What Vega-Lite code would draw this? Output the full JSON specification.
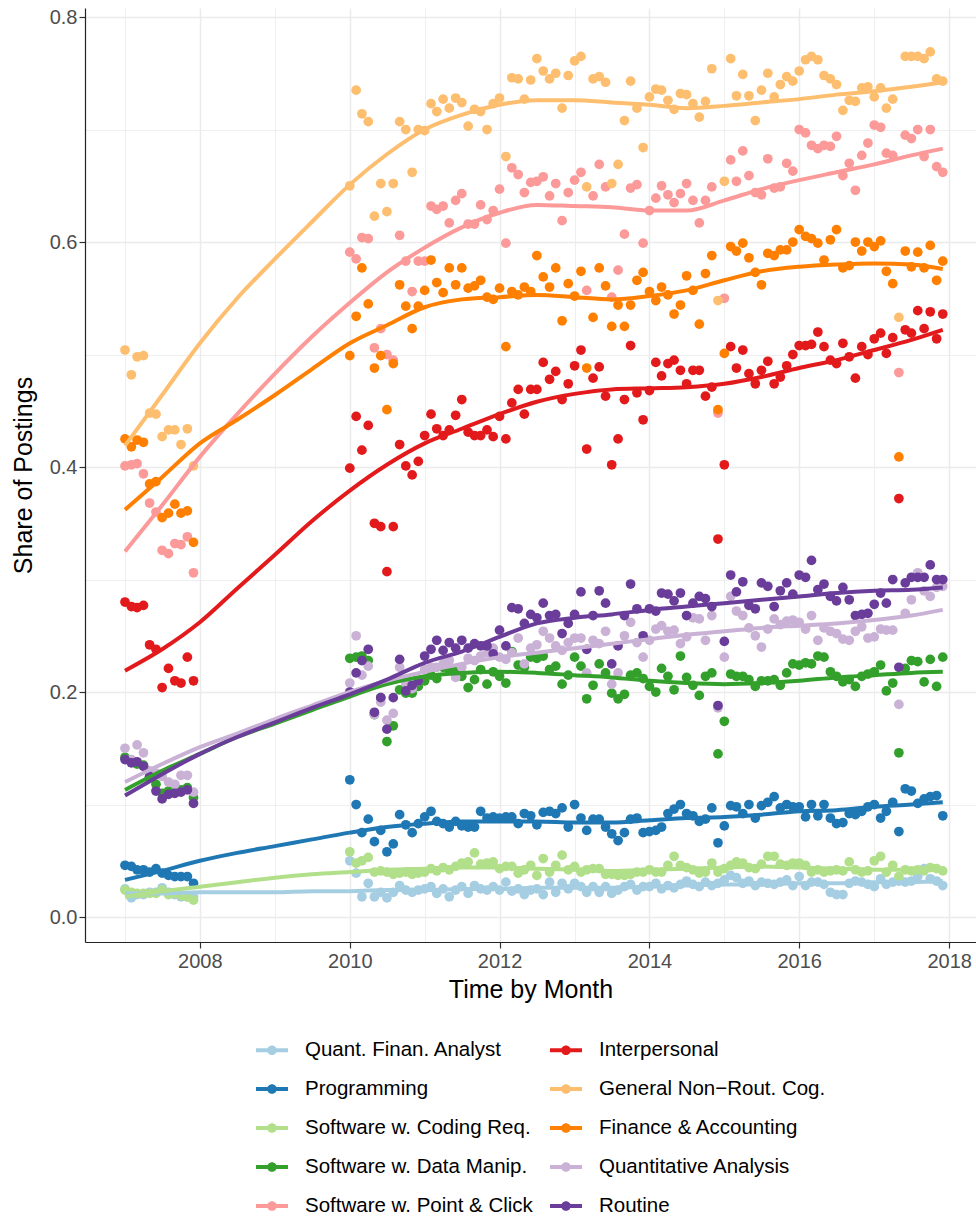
{
  "$schema": "https://vega.github.io/schema/vega-lite/v6.json",
  "width": 891,
  "height": 934,
  "autosize": {"type": "none"},
  "padding": {"left": 85, "top": 8, "right": 0, "bottom": 280},
  "background": "white",
  "config": {"view": {"stroke": null}, "font": "Liberation Sans"},
  "datasets": {
    "names": [
      {"key": "QFA", "name": "Quant. Finan. Analyst", "ord": 1},
      {"key": "PRG", "name": "Programming", "ord": 2},
      {"key": "COD", "name": "Software w. Coding Req.", "ord": 3},
      {"key": "DAT", "name": "Software w. Data Manip.", "ord": 4},
      {"key": "PNC", "name": "Software w. Point & Click", "ord": 5},
      {"key": "INT", "name": "Interpersonal", "ord": 6},
      {"key": "GEN", "name": "General Non−Rout. Cog.", "ord": 7},
      {"key": "FIN", "name": "Finance & Accounting", "ord": 8},
      {"key": "QAN", "name": "Quantitative Analysis", "ord": 9},
      {"key": "ROU", "name": "Routine", "ord": 10}
    ],
    "pts": [
      {"t":"2007-01","QFA":0.025,"PRG":0.046,"COD":0.024,"DAT":0.142,"PNC":0.401,"INT":0.280,"GEN":0.504,"FIN":0.425,"QAN":0.150,"ROU":0.140},
      {"t":"2007-02","QFA":0.017,"PRG":0.045,"COD":0.022,"DAT":0.138,"PNC":0.402,"INT":0.276,"GEN":0.482,"FIN":0.418,"QAN":0.140,"ROU":0.137},
      {"t":"2007-03","QFA":0.020,"PRG":0.042,"COD":0.021,"DAT":0.136,"PNC":0.403,"INT":0.275,"GEN":0.498,"FIN":0.424,"QAN":0.153,"ROU":0.138},
      {"t":"2007-04","QFA":0.020,"PRG":0.042,"COD":0.021,"DAT":0.135,"PNC":0.394,"INT":0.277,"GEN":0.499,"FIN":0.422,"QAN":0.146,"ROU":0.134},
      {"t":"2007-05","QFA":0.022,"PRG":0.040,"COD":0.021,"DAT":0.124,"PNC":0.368,"INT":0.242,"GEN":0.448,"FIN":0.385,"QAN":0.130,"ROU":0.125},
      {"t":"2007-06","QFA":0.022,"PRG":0.043,"COD":0.021,"DAT":0.118,"PNC":0.360,"INT":0.238,"GEN":0.447,"FIN":0.387,"QAN":0.128,"ROU":0.112},
      {"t":"2007-07","QFA":0.026,"PRG":0.039,"COD":0.024,"DAT":0.110,"PNC":0.326,"INT":0.204,"GEN":0.427,"FIN":0.355,"QAN":0.125,"ROU":0.105},
      {"t":"2007-08","QFA":0.022,"PRG":0.037,"COD":0.020,"DAT":0.112,"PNC":0.323,"INT":0.221,"GEN":0.433,"FIN":0.359,"QAN":0.120,"ROU":0.109},
      {"t":"2007-09","QFA":0.020,"PRG":0.036,"COD":0.021,"DAT":0.112,"PNC":0.332,"INT":0.210,"GEN":0.433,"FIN":0.367,"QAN":0.118,"ROU":0.110},
      {"t":"2007-10","QFA":0.018,"PRG":0.036,"COD":0.019,"DAT":0.113,"PNC":0.331,"INT":0.208,"GEN":0.420,"FIN":0.359,"QAN":0.126,"ROU":0.111},
      {"t":"2007-11","QFA":0.018,"PRG":0.036,"COD":0.018,"DAT":0.115,"PNC":0.338,"INT":0.231,"GEN":0.434,"FIN":0.361,"QAN":0.126,"ROU":0.113},
      {"t":"2007-12","QFA":0.018,"PRG":0.030,"COD":0.015,"DAT":0.106,"PNC":0.306,"INT":0.210,"GEN":0.401,"FIN":0.333,"QAN":0.111,"ROU":0.101},
      {"t":"2010-01","QFA":0.050,"PRG":0.122,"COD":0.058,"DAT":0.230,"PNC":0.591,"INT":0.399,"GEN":0.650,"FIN":0.499,"QAN":0.208,"ROU":0.200},
      {"t":"2010-02","QFA":0.039,"PRG":0.100,"COD":0.048,"DAT":0.231,"PNC":0.585,"INT":0.445,"GEN":0.735,"FIN":0.534,"QAN":0.250,"ROU":0.217},
      {"t":"2010-03","QFA":0.018,"PRG":0.075,"COD":0.050,"DAT":0.232,"PNC":0.604,"INT":0.415,"GEN":0.714,"FIN":0.577,"QAN":0.215,"ROU":0.228},
      {"t":"2010-04","QFA":0.030,"PRG":0.087,"COD":0.053,"DAT":0.228,"PNC":0.603,"INT":0.437,"GEN":0.707,"FIN":0.545,"QAN":0.223,"ROU":0.238},
      {"t":"2010-05","QFA":0.018,"PRG":0.067,"COD":0.040,"DAT":0.180,"PNC":0.506,"INT":0.350,"GEN":0.623,"FIN":0.488,"QAN":0.180,"ROU":0.182},
      {"t":"2010-06","QFA":0.022,"PRG":0.077,"COD":0.041,"DAT":0.195,"PNC":0.523,"INT":0.347,"GEN":0.652,"FIN":0.499,"QAN":0.191,"ROU":0.195},
      {"t":"2010-07","QFA":0.017,"PRG":0.058,"COD":0.040,"DAT":0.156,"PNC":0.500,"INT":0.307,"GEN":0.627,"FIN":0.451,"QAN":0.175,"ROU":0.167},
      {"t":"2010-08","QFA":0.022,"PRG":0.065,"COD":0.038,"DAT":0.170,"PNC":0.495,"INT":0.347,"GEN":0.652,"FIN":0.492,"QAN":0.181,"ROU":0.195},
      {"t":"2010-09","QFA":0.028,"PRG":0.091,"COD":0.039,"DAT":0.202,"PNC":0.606,"INT":0.420,"GEN":0.707,"FIN":0.562,"QAN":0.222,"ROU":0.229},
      {"t":"2010-10","QFA":0.024,"PRG":0.082,"COD":0.040,"DAT":0.199,"PNC":0.583,"INT":0.401,"GEN":0.700,"FIN":0.543,"QAN":0.208,"ROU":0.201},
      {"t":"2010-11","QFA":0.022,"PRG":0.075,"COD":0.038,"DAT":0.199,"PNC":0.556,"INT":0.393,"GEN":0.662,"FIN":0.523,"QAN":0.203,"ROU":0.206},
      {"t":"2010-12","QFA":0.024,"PRG":0.083,"COD":0.039,"DAT":0.205,"PNC":0.583,"INT":0.405,"GEN":0.700,"FIN":0.543,"QAN":0.210,"ROU":0.210},
      {"t":"2011-01","QFA":0.025,"PRG":0.089,"COD":0.040,"DAT":0.210,"PNC":0.583,"INT":0.428,"GEN":0.699,"FIN":0.557,"QAN":0.220,"ROU":0.232},
      {"t":"2011-02","QFA":0.027,"PRG":0.094,"COD":0.043,"DAT":0.215,"PNC":0.632,"INT":0.447,"GEN":0.723,"FIN":0.584,"QAN":0.222,"ROU":0.238},
      {"t":"2011-03","QFA":0.021,"PRG":0.085,"COD":0.041,"DAT":0.212,"PNC":0.629,"INT":0.434,"GEN":0.716,"FIN":0.564,"QAN":0.222,"ROU":0.246},
      {"t":"2011-04","QFA":0.025,"PRG":0.083,"COD":0.044,"DAT":0.222,"PNC":0.632,"INT":0.428,"GEN":0.727,"FIN":0.555,"QAN":0.225,"ROU":0.237},
      {"t":"2011-05","QFA":0.018,"PRG":0.080,"COD":0.042,"DAT":0.220,"PNC":0.617,"INT":0.433,"GEN":0.719,"FIN":0.577,"QAN":0.228,"ROU":0.244},
      {"t":"2011-06","QFA":0.024,"PRG":0.085,"COD":0.045,"DAT":0.218,"PNC":0.637,"INT":0.446,"GEN":0.728,"FIN":0.562,"QAN":0.213,"ROU":0.239},
      {"t":"2011-07","QFA":0.027,"PRG":0.081,"COD":0.048,"DAT":0.214,"PNC":0.643,"INT":0.460,"GEN":0.724,"FIN":0.577,"QAN":0.222,"ROU":0.246},
      {"t":"2011-08","QFA":0.021,"PRG":0.080,"COD":0.049,"DAT":0.204,"PNC":0.616,"INT":0.431,"GEN":0.703,"FIN":0.559,"QAN":0.230,"ROU":0.239},
      {"t":"2011-09","QFA":0.028,"PRG":0.080,"COD":0.057,"DAT":0.211,"PNC":0.616,"INT":0.428,"GEN":0.718,"FIN":0.561,"QAN":0.228,"ROU":0.243},
      {"t":"2011-10","QFA":0.025,"PRG":0.094,"COD":0.047,"DAT":0.220,"PNC":0.633,"INT":0.428,"GEN":0.716,"FIN":0.566,"QAN":0.232,"ROU":0.241},
      {"t":"2011-11","QFA":0.024,"PRG":0.088,"COD":0.048,"DAT":0.207,"PNC":0.620,"INT":0.433,"GEN":0.700,"FIN":0.551,"QAN":0.235,"ROU":0.241},
      {"t":"2011-12","QFA":0.027,"PRG":0.089,"COD":0.049,"DAT":0.218,"PNC":0.628,"INT":0.427,"GEN":0.723,"FIN":0.549,"QAN":0.239,"ROU":0.234},
      {"t":"2012-01","QFA":0.024,"PRG":0.088,"COD":0.043,"DAT":0.214,"PNC":0.647,"INT":0.445,"GEN":0.728,"FIN":0.559,"QAN":0.231,"ROU":0.255},
      {"t":"2012-02","QFA":0.031,"PRG":0.089,"COD":0.045,"DAT":0.208,"PNC":0.599,"INT":0.425,"GEN":0.676,"FIN":0.507,"QAN":0.229,"ROU":0.241},
      {"t":"2012-03","QFA":0.023,"PRG":0.089,"COD":0.045,"DAT":0.236,"PNC":0.666,"INT":0.457,"GEN":0.746,"FIN":0.556,"QAN":0.235,"ROU":0.275},
      {"t":"2012-04","QFA":0.025,"PRG":0.083,"COD":0.039,"DAT":0.224,"PNC":0.660,"INT":0.469,"GEN":0.745,"FIN":0.553,"QAN":0.248,"ROU":0.274},
      {"t":"2012-05","QFA":0.020,"PRG":0.092,"COD":0.042,"DAT":0.222,"PNC":0.644,"INT":0.447,"GEN":0.727,"FIN":0.560,"QAN":0.225,"ROU":0.261},
      {"t":"2012-06","QFA":0.024,"PRG":0.090,"COD":0.046,"DAT":0.231,"PNC":0.653,"INT":0.469,"GEN":0.744,"FIN":0.556,"QAN":0.239,"ROU":0.269},
      {"t":"2012-07","QFA":0.025,"PRG":0.082,"COD":0.037,"DAT":0.230,"PNC":0.654,"INT":0.469,"GEN":0.763,"FIN":0.588,"QAN":0.242,"ROU":0.266},
      {"t":"2012-08","QFA":0.020,"PRG":0.093,"COD":0.052,"DAT":0.232,"PNC":0.658,"INT":0.493,"GEN":0.752,"FIN":0.569,"QAN":0.254,"ROU":0.279},
      {"t":"2012-09","QFA":0.031,"PRG":0.094,"COD":0.040,"DAT":0.220,"PNC":0.641,"INT":0.478,"GEN":0.745,"FIN":0.560,"QAN":0.248,"ROU":0.268},
      {"t":"2012-10","QFA":0.022,"PRG":0.092,"COD":0.046,"DAT":0.223,"PNC":0.652,"INT":0.485,"GEN":0.750,"FIN":0.577,"QAN":0.241,"ROU":0.269},
      {"t":"2012-11","QFA":0.030,"PRG":0.097,"COD":0.055,"DAT":0.207,"PNC":0.619,"INT":0.460,"GEN":0.719,"FIN":0.530,"QAN":0.237,"ROU":0.252},
      {"t":"2012-12","QFA":0.025,"PRG":0.080,"COD":0.042,"DAT":0.215,"PNC":0.644,"INT":0.474,"GEN":0.748,"FIN":0.563,"QAN":0.244,"ROU":0.261},
      {"t":"2013-01","QFA":0.030,"PRG":0.100,"COD":0.045,"DAT":0.231,"PNC":0.655,"INT":0.490,"GEN":0.761,"FIN":0.552,"QAN":0.248,"ROU":0.269},
      {"t":"2013-02","QFA":0.027,"PRG":0.088,"COD":0.040,"DAT":0.223,"PNC":0.662,"INT":0.504,"GEN":0.765,"FIN":0.574,"QAN":0.248,"ROU":0.289},
      {"t":"2013-03","QFA":0.022,"PRG":0.077,"COD":0.042,"DAT":0.194,"PNC":0.557,"INT":0.416,"GEN":0.649,"FIN":0.488,"QAN":0.217,"ROU":0.238},
      {"t":"2013-04","QFA":0.027,"PRG":0.087,"COD":0.043,"DAT":0.206,"PNC":0.641,"INT":0.479,"GEN":0.745,"FIN":0.533,"QAN":0.246,"ROU":0.268},
      {"t":"2013-05","QFA":0.022,"PRG":0.087,"COD":0.043,"DAT":0.225,"PNC":0.669,"INT":0.489,"GEN":0.747,"FIN":0.577,"QAN":0.243,"ROU":0.290},
      {"t":"2013-06","QFA":0.027,"PRG":0.080,"COD":0.038,"DAT":0.217,"PNC":0.649,"INT":0.463,"GEN":0.742,"FIN":0.561,"QAN":0.254,"ROU":0.279},
      {"t":"2013-07","QFA":0.021,"PRG":0.074,"COD":0.038,"DAT":0.199,"PNC":0.551,"INT":0.402,"GEN":0.652,"FIN":0.525,"QAN":0.207,"ROU":0.225},
      {"t":"2013-08","QFA":0.024,"PRG":0.068,"COD":0.037,"DAT":0.194,"PNC":0.575,"INT":0.425,"GEN":0.669,"FIN":0.544,"QAN":0.217,"ROU":0.241},
      {"t":"2013-09","QFA":0.027,"PRG":0.075,"COD":0.037,"DAT":0.198,"PNC":0.607,"INT":0.460,"GEN":0.708,"FIN":0.525,"QAN":0.250,"ROU":0.268},
      {"t":"2013-10","QFA":0.029,"PRG":0.087,"COD":0.038,"DAT":0.215,"PNC":0.648,"INT":0.508,"GEN":0.743,"FIN":0.544,"QAN":0.262,"ROU":0.296},
      {"t":"2013-11","QFA":0.024,"PRG":0.088,"COD":0.040,"DAT":0.217,"PNC":0.651,"INT":0.466,"GEN":0.719,"FIN":0.566,"QAN":0.244,"ROU":0.274},
      {"t":"2013-12","QFA":0.027,"PRG":0.075,"COD":0.040,"DAT":0.212,"PNC":0.599,"INT":0.442,"GEN":0.684,"FIN":0.573,"QAN":0.231,"ROU":0.250},
      {"t":"2014-01","QFA":0.027,"PRG":0.076,"COD":0.042,"DAT":0.205,"PNC":0.628,"INT":0.468,"GEN":0.729,"FIN":0.556,"QAN":0.246,"ROU":0.274},
      {"t":"2014-02","QFA":0.030,"PRG":0.077,"COD":0.040,"DAT":0.200,"PNC":0.639,"INT":0.493,"GEN":0.736,"FIN":0.548,"QAN":0.256,"ROU":0.272},
      {"t":"2014-03","QFA":0.025,"PRG":0.080,"COD":0.040,"DAT":0.221,"PNC":0.650,"INT":0.481,"GEN":0.735,"FIN":0.560,"QAN":0.259,"ROU":0.288},
      {"t":"2014-04","QFA":0.028,"PRG":0.092,"COD":0.046,"DAT":0.214,"PNC":0.642,"INT":0.492,"GEN":0.726,"FIN":0.553,"QAN":0.254,"ROU":0.287},
      {"t":"2014-05","QFA":0.026,"PRG":0.096,"COD":0.054,"DAT":0.202,"PNC":0.635,"INT":0.495,"GEN":0.718,"FIN":0.536,"QAN":0.255,"ROU":0.281},
      {"t":"2014-06","QFA":0.029,"PRG":0.100,"COD":0.046,"DAT":0.232,"PNC":0.643,"INT":0.486,"GEN":0.732,"FIN":0.544,"QAN":0.243,"ROU":0.288},
      {"t":"2014-07","QFA":0.032,"PRG":0.092,"COD":0.044,"DAT":0.213,"PNC":0.652,"INT":0.474,"GEN":0.731,"FIN":0.570,"QAN":0.249,"ROU":0.268},
      {"t":"2014-08","QFA":0.029,"PRG":0.090,"COD":0.042,"DAT":0.206,"PNC":0.637,"INT":0.486,"GEN":0.723,"FIN":0.557,"QAN":0.266,"ROU":0.279},
      {"t":"2014-09","QFA":0.027,"PRG":0.085,"COD":0.039,"DAT":0.197,"PNC":0.617,"INT":0.486,"GEN":0.711,"FIN":0.527,"QAN":0.265,"ROU":0.285},
      {"t":"2014-10","QFA":0.031,"PRG":0.087,"COD":0.040,"DAT":0.214,"PNC":0.637,"INT":0.463,"GEN":0.725,"FIN":0.572,"QAN":0.246,"ROU":0.283},
      {"t":"2014-11","QFA":0.028,"PRG":0.097,"COD":0.048,"DAT":0.217,"PNC":0.649,"INT":0.471,"GEN":0.754,"FIN":0.588,"QAN":0.268,"ROU":0.276},
      {"t":"2014-12","QFA":0.030,"PRG":0.066,"COD":0.040,"DAT":0.145,"PNC":0.448,"INT":0.336,"GEN":0.548,"FIN":0.451,"QAN":0.186,"ROU":0.188},
      {"t":"2015-01","QFA":0.033,"PRG":0.081,"COD":0.043,"DAT":0.174,"PNC":0.550,"INT":0.402,"GEN":0.654,"FIN":0.501,"QAN":0.231,"ROU":0.245},
      {"t":"2015-02","QFA":0.037,"PRG":0.099,"COD":0.046,"DAT":0.216,"PNC":0.673,"INT":0.507,"GEN":0.763,"FIN":0.596,"QAN":0.285,"ROU":0.304},
      {"t":"2015-03","QFA":0.035,"PRG":0.098,"COD":0.049,"DAT":0.214,"PNC":0.654,"INT":0.488,"GEN":0.730,"FIN":0.592,"QAN":0.272,"ROU":0.289},
      {"t":"2015-04","QFA":0.030,"PRG":0.092,"COD":0.048,"DAT":0.214,"PNC":0.681,"INT":0.504,"GEN":0.749,"FIN":0.599,"QAN":0.268,"ROU":0.298},
      {"t":"2015-05","QFA":0.032,"PRG":0.100,"COD":0.044,"DAT":0.211,"PNC":0.659,"INT":0.483,"GEN":0.730,"FIN":0.586,"QAN":0.257,"ROU":0.277},
      {"t":"2015-06","QFA":0.028,"PRG":0.088,"COD":0.043,"DAT":0.205,"PNC":0.644,"INT":0.474,"GEN":0.708,"FIN":0.573,"QAN":0.250,"ROU":0.274},
      {"t":"2015-07","QFA":0.031,"PRG":0.099,"COD":0.047,"DAT":0.210,"PNC":0.642,"INT":0.486,"GEN":0.735,"FIN":0.562,"QAN":0.240,"ROU":0.297},
      {"t":"2015-08","QFA":0.030,"PRG":0.102,"COD":0.054,"DAT":0.210,"PNC":0.674,"INT":0.494,"GEN":0.750,"FIN":0.590,"QAN":0.256,"ROU":0.294},
      {"t":"2015-09","QFA":0.029,"PRG":0.107,"COD":0.054,"DAT":0.211,"PNC":0.648,"INT":0.474,"GEN":0.729,"FIN":0.588,"QAN":0.265,"ROU":0.276},
      {"t":"2015-10","QFA":0.031,"PRG":0.097,"COD":0.047,"DAT":0.206,"PNC":0.649,"INT":0.480,"GEN":0.740,"FIN":0.593,"QAN":0.260,"ROU":0.290},
      {"t":"2015-11","QFA":0.033,"PRG":0.100,"COD":0.046,"DAT":0.217,"PNC":0.670,"INT":0.490,"GEN":0.747,"FIN":0.593,"QAN":0.263,"ROU":0.297},
      {"t":"2015-12","QFA":0.028,"PRG":0.098,"COD":0.048,"DAT":0.225,"PNC":0.663,"INT":0.500,"GEN":0.743,"FIN":0.600,"QAN":0.264,"ROU":0.287},
      {"t":"2016-01","QFA":0.036,"PRG":0.098,"COD":0.048,"DAT":0.224,"PNC":0.700,"INT":0.508,"GEN":0.752,"FIN":0.611,"QAN":0.262,"ROU":0.304},
      {"t":"2016-02","QFA":0.028,"PRG":0.089,"COD":0.046,"DAT":0.226,"PNC":0.697,"INT":0.508,"GEN":0.762,"FIN":0.605,"QAN":0.256,"ROU":0.302},
      {"t":"2016-03","QFA":0.031,"PRG":0.100,"COD":0.040,"DAT":0.225,"PNC":0.686,"INT":0.509,"GEN":0.765,"FIN":0.603,"QAN":0.268,"ROU":0.317},
      {"t":"2016-04","QFA":0.031,"PRG":0.090,"COD":0.042,"DAT":0.232,"PNC":0.683,"INT":0.520,"GEN":0.762,"FIN":0.599,"QAN":0.246,"ROU":0.291},
      {"t":"2016-05","QFA":0.029,"PRG":0.100,"COD":0.040,"DAT":0.231,"PNC":0.686,"INT":0.507,"GEN":0.748,"FIN":0.584,"QAN":0.257,"ROU":0.296},
      {"t":"2016-06","QFA":0.022,"PRG":0.088,"COD":0.041,"DAT":0.218,"PNC":0.685,"INT":0.495,"GEN":0.745,"FIN":0.602,"QAN":0.254,"ROU":0.285},
      {"t":"2016-07","QFA":0.020,"PRG":0.083,"COD":0.042,"DAT":0.214,"PNC":0.694,"INT":0.492,"GEN":0.740,"FIN":0.611,"QAN":0.252,"ROU":0.281},
      {"t":"2016-08","QFA":0.020,"PRG":0.084,"COD":0.041,"DAT":0.209,"PNC":0.659,"INT":0.510,"GEN":0.717,"FIN":0.577,"QAN":0.247,"ROU":0.293},
      {"t":"2016-09","QFA":0.030,"PRG":0.092,"COD":0.049,"DAT":0.211,"PNC":0.670,"INT":0.498,"GEN":0.726,"FIN":0.579,"QAN":0.246,"ROU":0.282},
      {"t":"2016-10","QFA":0.032,"PRG":0.091,"COD":0.042,"DAT":0.205,"PNC":0.646,"INT":0.479,"GEN":0.725,"FIN":0.600,"QAN":0.254,"ROU":0.268},
      {"t":"2016-11","QFA":0.031,"PRG":0.094,"COD":0.040,"DAT":0.214,"PNC":0.677,"INT":0.507,"GEN":0.737,"FIN":0.592,"QAN":0.258,"ROU":0.269},
      {"t":"2016-12","QFA":0.029,"PRG":0.098,"COD":0.041,"DAT":0.216,"PNC":0.688,"INT":0.500,"GEN":0.738,"FIN":0.600,"QAN":0.248,"ROU":0.270},
      {"t":"2017-01","QFA":0.027,"PRG":0.100,"COD":0.050,"DAT":0.218,"PNC":0.704,"INT":0.514,"GEN":0.729,"FIN":0.596,"QAN":0.249,"ROU":0.278},
      {"t":"2017-02","QFA":0.034,"PRG":0.088,"COD":0.054,"DAT":0.224,"PNC":0.702,"INT":0.519,"GEN":0.737,"FIN":0.601,"QAN":0.256,"ROU":0.288},
      {"t":"2017-03","QFA":0.029,"PRG":0.094,"COD":0.040,"DAT":0.201,"PNC":0.679,"INT":0.501,"GEN":0.719,"FIN":0.574,"QAN":0.255,"ROU":0.279},
      {"t":"2017-04","QFA":0.031,"PRG":0.102,"COD":0.046,"DAT":0.208,"PNC":0.677,"INT":0.515,"GEN":0.727,"FIN":0.563,"QAN":0.255,"ROU":0.300},
      {"t":"2017-05","QFA":0.032,"PRG":0.076,"COD":0.036,"DAT":0.146,"PNC":0.484,"INT":0.372,"GEN":0.533,"FIN":0.409,"QAN":0.189,"ROU":0.222},
      {"t":"2017-06","QFA":0.031,"PRG":0.114,"COD":0.042,"DAT":0.221,"PNC":0.695,"INT":0.522,"GEN":0.765,"FIN":0.592,"QAN":0.270,"ROU":0.297},
      {"t":"2017-07","QFA":0.032,"PRG":0.112,"COD":0.041,"DAT":0.228,"PNC":0.692,"INT":0.519,"GEN":0.765,"FIN":0.578,"QAN":0.282,"ROU":0.302},
      {"t":"2017-08","QFA":0.036,"PRG":0.101,"COD":0.042,"DAT":0.227,"PNC":0.700,"INT":0.539,"GEN":0.765,"FIN":0.591,"QAN":0.306,"ROU":0.302},
      {"t":"2017-09","QFA":0.043,"PRG":0.105,"COD":0.041,"DAT":0.209,"PNC":0.676,"INT":0.523,"GEN":0.763,"FIN":0.577,"QAN":0.290,"ROU":0.302},
      {"t":"2017-10","QFA":0.034,"PRG":0.107,"COD":0.044,"DAT":0.229,"PNC":0.700,"INT":0.538,"GEN":0.769,"FIN":0.597,"QAN":0.285,"ROU":0.313},
      {"t":"2017-11","QFA":0.032,"PRG":0.108,"COD":0.043,"DAT":0.205,"PNC":0.667,"INT":0.514,"GEN":0.745,"FIN":0.566,"QAN":0.293,"ROU":0.300},
      {"t":"2017-12","QFA":0.028,"PRG":0.090,"COD":0.041,"DAT":0.231,"PNC":0.662,"INT":0.536,"GEN":0.743,"FIN":0.583,"QAN":0.294,"ROU":0.300}
    ],
    "fit": [
      {"t":"2007-01","QFA":0.021,"PRG":0.033,"COD":0.018,"DAT":0.113,"PNC":0.325,"INT":0.219,"GEN":0.419,"FIN":0.362,"QAN":0.120,"ROU":0.108},
      {"t":"2007-07","QFA":0.021,"PRG":0.041,"COD":0.023,"DAT":0.130,"PNC":0.366,"INT":0.238,"GEN":0.464,"FIN":0.391,"QAN":0.136,"ROU":0.127},
      {"t":"2008-01","QFA":0.022,"PRG":0.050,"COD":0.027,"DAT":0.145,"PNC":0.409,"INT":0.262,"GEN":0.510,"FIN":0.421,"QAN":0.151,"ROU":0.145},
      {"t":"2008-07","QFA":0.022,"PRG":0.057,"COD":0.031,"DAT":0.160,"PNC":0.447,"INT":0.292,"GEN":0.550,"FIN":0.442,"QAN":0.163,"ROU":0.160},
      {"t":"2009-01","QFA":0.022,"PRG":0.063,"COD":0.035,"DAT":0.172,"PNC":0.483,"INT":0.322,"GEN":0.585,"FIN":0.464,"QAN":0.176,"ROU":0.173},
      {"t":"2009-07","QFA":0.023,"PRG":0.069,"COD":0.038,"DAT":0.184,"PNC":0.516,"INT":0.352,"GEN":0.618,"FIN":0.487,"QAN":0.188,"ROU":0.186},
      {"t":"2010-01","QFA":0.023,"PRG":0.075,"COD":0.040,"DAT":0.196,"PNC":0.546,"INT":0.379,"GEN":0.651,"FIN":0.510,"QAN":0.200,"ROU":0.198},
      {"t":"2010-07","QFA":0.024,"PRG":0.080,"COD":0.042,"DAT":0.207,"PNC":0.573,"INT":0.402,"GEN":0.678,"FIN":0.526,"QAN":0.210,"ROU":0.211},
      {"t":"2011-01","QFA":0.024,"PRG":0.083,"COD":0.043,"DAT":0.214,"PNC":0.595,"INT":0.421,"GEN":0.700,"FIN":0.542,"QAN":0.218,"ROU":0.226},
      {"t":"2011-07","QFA":0.025,"PRG":0.085,"COD":0.044,"DAT":0.217,"PNC":0.613,"INT":0.434,"GEN":0.713,"FIN":0.549,"QAN":0.225,"ROU":0.236},
      {"t":"2012-01","QFA":0.025,"PRG":0.085,"COD":0.044,"DAT":0.218,"PNC":0.626,"INT":0.447,"GEN":0.722,"FIN":0.551,"QAN":0.231,"ROU":0.249},
      {"t":"2012-07","QFA":0.026,"PRG":0.085,"COD":0.043,"DAT":0.217,"PNC":0.633,"INT":0.458,"GEN":0.726,"FIN":0.553,"QAN":0.235,"ROU":0.261},
      {"t":"2013-01","QFA":0.026,"PRG":0.084,"COD":0.042,"DAT":0.215,"PNC":0.632,"INT":0.465,"GEN":0.726,"FIN":0.551,"QAN":0.239,"ROU":0.266},
      {"t":"2013-07","QFA":0.026,"PRG":0.084,"COD":0.041,"DAT":0.213,"PNC":0.631,"INT":0.469,"GEN":0.724,"FIN":0.549,"QAN":0.243,"ROU":0.269},
      {"t":"2014-01","QFA":0.027,"PRG":0.086,"COD":0.042,"DAT":0.210,"PNC":0.628,"INT":0.470,"GEN":0.722,"FIN":0.552,"QAN":0.247,"ROU":0.273},
      {"t":"2014-07","QFA":0.028,"PRG":0.088,"COD":0.043,"DAT":0.208,"PNC":0.628,"INT":0.471,"GEN":0.719,"FIN":0.557,"QAN":0.251,"ROU":0.276},
      {"t":"2015-01","QFA":0.029,"PRG":0.089,"COD":0.044,"DAT":0.207,"PNC":0.637,"INT":0.474,"GEN":0.721,"FIN":0.566,"QAN":0.254,"ROU":0.279},
      {"t":"2015-07","QFA":0.029,"PRG":0.091,"COD":0.045,"DAT":0.208,"PNC":0.647,"INT":0.480,"GEN":0.724,"FIN":0.574,"QAN":0.257,"ROU":0.282},
      {"t":"2016-01","QFA":0.030,"PRG":0.094,"COD":0.044,"DAT":0.210,"PNC":0.655,"INT":0.488,"GEN":0.727,"FIN":0.578,"QAN":0.259,"ROU":0.285},
      {"t":"2016-07","QFA":0.030,"PRG":0.095,"COD":0.043,"DAT":0.213,"PNC":0.662,"INT":0.495,"GEN":0.731,"FIN":0.580,"QAN":0.261,"ROU":0.288},
      {"t":"2017-01","QFA":0.031,"PRG":0.098,"COD":0.042,"DAT":0.215,"PNC":0.669,"INT":0.504,"GEN":0.734,"FIN":0.581,"QAN":0.264,"ROU":0.290},
      {"t":"2017-07","QFA":0.031,"PRG":0.100,"COD":0.042,"DAT":0.217,"PNC":0.677,"INT":0.513,"GEN":0.738,"FIN":0.580,"QAN":0.268,"ROU":0.291},
      {"t":"2017-12","QFA":0.032,"PRG":0.102,"COD":0.042,"DAT":0.218,"PNC":0.683,"INT":0.522,"GEN":0.742,"FIN":0.576,"QAN":0.273,"ROU":0.293}
    ]
  },
  "encoding": {
    "x": {
      "field": "t", "type": "temporal", "title": "Time by Month",
      "scale": {"type": "utc", "domain": [{"year": 2006, "month": 6, "date": 20, "utc": true}, {"year": 2018, "month": 5, "date": 12, "utc": true}], "nice": false},
      "axis": {
        "values": [{"year": 2007, "utc": true}, {"year": 2008, "utc": true}, {"year": 2009, "utc": true}, {"year": 2010, "utc": true}, {"year": 2011, "utc": true}, {"year": 2012, "utc": true}, {"year": 2013, "utc": true}, {"year": 2014, "utc": true}, {"year": 2015, "utc": true}, {"year": 2016, "utc": true}, {"year": 2017, "utc": true}, {"year": 2018, "utc": true}],
        "labelExpr": "utcyear(datum.value) % 2 == 0 ? '' + utcyear(datum.value) : ''",
        "grid": true, "gridColor": "#EBEBEB",
        "gridWidth": {"condition": {"test": "utcyear(datum.value) % 2 == 1", "value": 0.8}, "value": 1.5},
        "tickOpacity": {"condition": {"test": "utcyear(datum.value) % 2 == 1", "value": 0}, "value": 1},
        "tickSize": 6, "tickColor": "#333333", "tickWidth": 1.2,
        "domainColor": "#222222", "domainWidth": 1.2,
        "labelFont": "Liberation Sans", "labelFontSize": 20, "labelColor": "#4D4D4D", "labelPadding": 3,
        "labelFlush": false, "labelOverlap": false,
        "titleFont": "Liberation Sans", "titleFontSize": 25, "titleFontWeight": "normal", "titleColor": "#000000", "titlePadding": 6
      }
    },
    "y": {
      "field": "v", "type": "quantitative", "title": "Share of Postings",
      "scale": {"domain": [-0.0222, 0.808], "nice": false, "zero": false},
      "axis": {
        "values": [0, 0.1, 0.2, 0.3, 0.4, 0.5, 0.6, 0.7, 0.8],
        "labelExpr": "round(datum.value * 10) % 2 == 0 ? format(datum.value, '.1f') : ''",
        "grid": true, "gridColor": "#EBEBEB",
        "gridWidth": {"condition": {"test": "round(datum.value * 10) % 2 == 1", "value": 0.8}, "value": 1.5},
        "tickOpacity": {"condition": {"test": "round(datum.value * 10) % 2 == 1", "value": 0}, "value": 1},
        "tickSize": 6, "tickColor": "#333333", "tickWidth": 1.2,
        "domainColor": "#222222", "domainWidth": 1.2,
        "labelFont": "Liberation Sans", "labelFontSize": 20, "labelColor": "#4D4D4D", "labelPadding": 2,
        "labelFlush": false, "labelOverlap": false,
        "titleFont": "Liberation Sans", "titleFontSize": 25, "titleFontWeight": "normal", "titleColor": "#000000", "titlePadding": 13
      }
    },
    "color": {
      "field": "name", "type": "nominal",
      "scale": {
        "domain": ["Quant. Finan. Analyst", "Programming", "Software w. Coding Req.", "Software w. Data Manip.", "Software w. Point & Click", "Interpersonal", "General Non−Rout. Cog.", "Finance & Accounting", "Quantitative Analysis", "Routine"],
        "range": ["#A6CEE3", "#1F78B4", "#B2DF8A", "#33A02C", "#FB9A99", "#E31A1C", "#FDBF6F", "#FF7F00", "#CAB2D6", "#6A3D9A"]
      },
      "legend": {
        "orient": "none", "legendX": 171, "legendY": 1026, "columns": 2, "title": null,
        "symbolType": "M-1,-0.125H1V0.125H-1Z M0.3,0A0.3,0.3,0,1,1,-0.3,0A0.3,0.3,0,1,1,0.3,0Z",
        "symbolSize": 1024, "symbolStrokeWidth": 0, "symbolOpacity": 1,
        "labelFont": "Liberation Sans", "labelFontSize": 20.5, "labelColor": "#000000", "labelOffset": 17, "labelLimit": 400,
        "rowPadding": 12, "columnPadding": 17,
        "encode": {"symbols": {"update": {"fill": {"scale": "color", "field": "value"}, "stroke": {"value": "transparent"}}}}
      }
    }
  },
  "layer": [
    {
      "data": {"name": "pts"},
      "transform": [
        {"fold": ["QFA", "PRG", "COD", "DAT", "PNC", "INT", "GEN", "FIN", "QAN", "ROU"], "as": ["key", "v"]},
        {"lookup": "key", "from": {"data": {"name": "names"}, "key": "key", "fields": ["name", "ord"]}}
      ],
      "mark": {"type": "point", "filled": true, "size": 95, "opacity": 1, "strokeWidth": 0},
      "encoding": {"order": {"field": "ord", "type": "quantitative"}}
    },
    {
      "data": {"name": "fit"},
      "transform": [
        {"fold": ["QFA", "PRG", "COD", "DAT", "PNC", "INT", "GEN", "FIN", "QAN", "ROU"], "as": ["key", "v"]},
        {"lookup": "key", "from": {"data": {"name": "names"}, "key": "key", "fields": ["name", "ord"]}}
      ],
      "mark": {"type": "line", "strokeWidth": 4, "interpolate": "monotone"},
      "encoding": {}
    }
  ]
}
